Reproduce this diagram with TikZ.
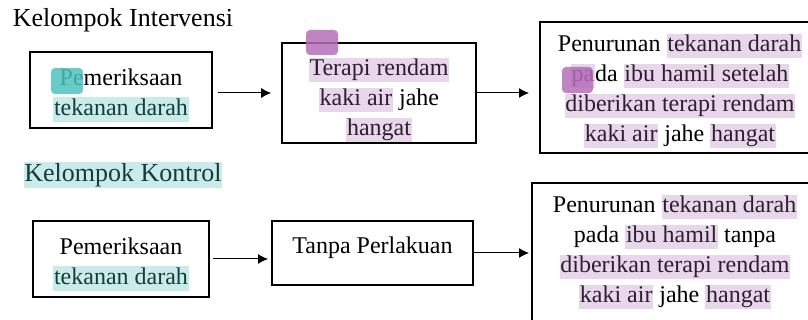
\documentclass[tikz,border=0pt]{standalone}
\usepackage{fontspec}
\setmainfont{Liberation Serif}
\usepackage{xcolor}
\usepackage{tikz}
\usetikzlibrary{arrows.meta,positioning}

\definecolor{hlteal}{HTML}{C9ECEB}
\definecolor{hlpurple}{HTML}{E8D6EA}
\definecolor{markteal}{HTML}{4CC3BE}
\definecolor{markpurple}{HTML}{B56DB8}
\definecolor{inkteal}{HTML}{143C3C}
\definecolor{inkpurple}{HTML}{2E1F30}

% highlighted words
\newcommand{\hlt}[1]{{\setlength{\fboxsep}{0.4pt}\colorbox{hlteal}{\color{inkteal}\rule[-3pt]{0pt}{11.5pt}#1}}}
\newcommand{\hlp}[1]{{\setlength{\fboxsep}{0.4pt}\colorbox{hlpurple}{\color{inkpurple}\rule[-3pt]{0pt}{11.5pt}#1}}}
% extra room above the first line
\newcommand{\topgap}[1]{\rule{0pt}{#1}}

\begin{document}
\begin{tikzpicture}[
    x=0.5pt, y=-0.5pt,
    font=\fontsize{12}{15}\selectfont,
    stepbox/.style={draw, line width=1pt, inner sep=0pt, align=center},
    title/.style={font=\fontsize{13}{15}\selectfont, inner sep=0pt},
    arr/.style={-{Latex[length=5pt,width=5pt]}, line width=0.5pt},
    marker/.style={rounded corners=2pt, opacity=0.85}
]
    \useasboundingbox (0,0) rectangle (808,320);
    \clip (0,0) rectangle (808,320);

    % kelompok intervensi
    \node[title] (judulA) at (123,20) {Kelompok Intervensi};

    \node[
        stepbox,
        minimum width=91pt,
        minimum height=38pt
    ] (periksaA) at (121,90) {\topgap{13.5pt}Pemeriksaan\\ \hlt{tekanan darah}};

    \node[
        stepbox,
        line width=0.8pt,
        minimum width=97pt,
        minimum height=50pt
    ] (terapi) at (379,93) {\topgap{16pt}\hlp{Terapi rendam}\\ \hlp{kaki air} jahe\\ \hlp{hangat}};

    \node[
        stepbox,
        minimum width=140pt,
        minimum height=65.5pt
    ] (hasilA) at (680,88) {\topgap{12pt}Penurunan \hlp{tekanan darah}\\ \hlp{pa}da \hlp{ibu hamil setelah}\\ \hlp{diberikan terapi rendam}\\ \hlp{kaki air} jahe \hlp{hangat}};

    \draw[arr, shorten <=2.5pt, shorten >=5pt] (periksaA.east |- terapi.west) -- (terapi.west);
    \draw[arr, shorten >=5pt] (terapi.east) -- (terapi.east -| hasilA.west);

    % kelompok kontrol
    \node[title] (judulB) at (123,175) {\hlt{Kelompok Kontrol}};

    \node[
        stepbox,
        minimum width=88pt,
        minimum height=38pt
    ] (periksaB) at (121,259) {\topgap{13.5pt}Pemeriksaan\\ \hlt{tekanan darah}};

    \node[
        stepbox,
        minimum width=100.5pt,
        minimum height=32pt
    ] (kontrol) at (372.5,253) {\topgap{15.3pt}Tanpa Perlakuan\\ \mbox{}};

    \node[
        stepbox,
        minimum width=143pt,
        minimum height=69pt
    ] (hasilB) at (675,252) {Penurunan \hlp{tekanan darah}\\ pada \hlp{ibu hamil} tanpa\\ \hlp{diberikan terapi rendam}\\ \hlp{kaki air} jahe \hlp{hangat}};

    \draw[arr, shorten <=1.5pt, shorten >=1.5pt] (periksaB.east) -- (periksaB.east -| kontrol.west);
    \draw[arr, shorten >=1pt] (kontrol.east) -- (kontrol.east -| hasilB.west);

    % comment markers
    \fill[markteal, marker] (51,68) rectangle (83,94);
    \fill[markpurple, marker] (306,30) rectangle (338,55);
    \fill[markpurple, marker] (562,67) rectangle (593,93);
\end{tikzpicture}
\end{document}
